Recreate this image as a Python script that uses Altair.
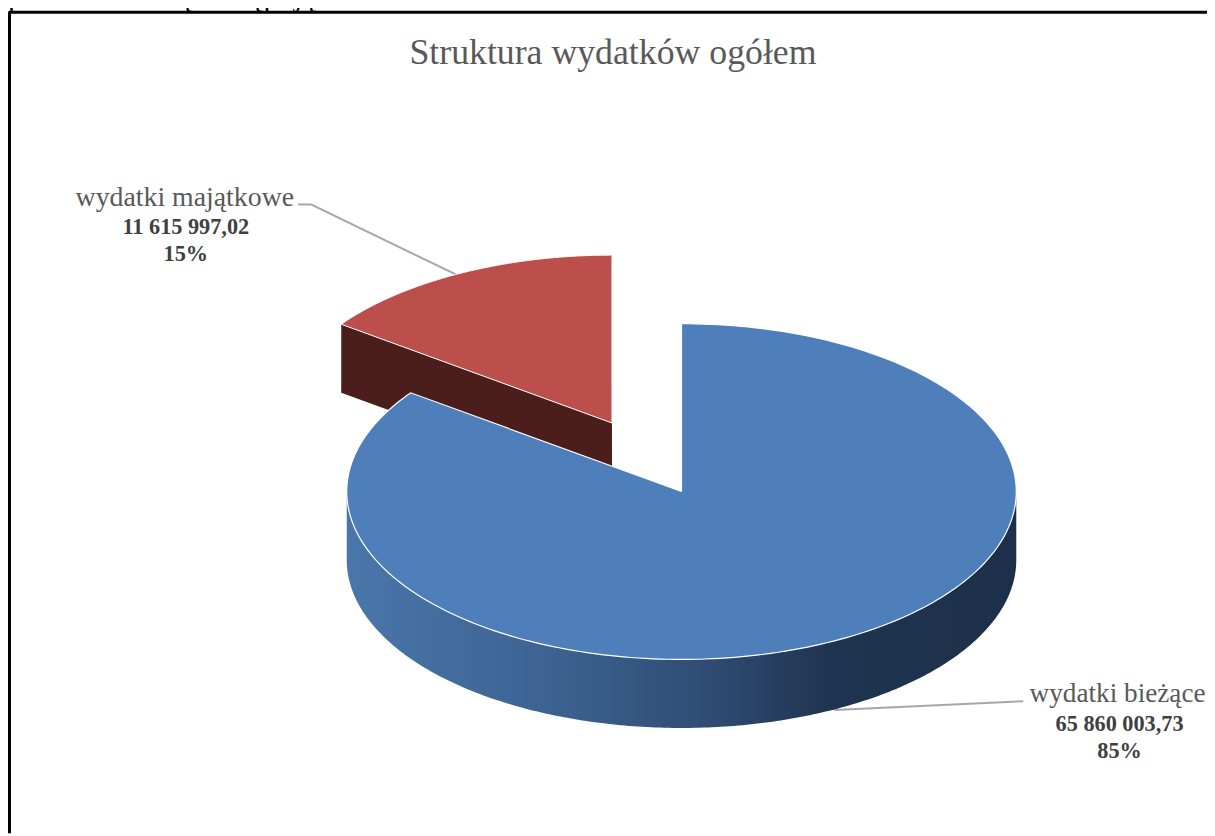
import math
import altair as alt
import pandas as pd

categories = ["wydatki bieżące", "wydatki majątkowe"]
values = [65860003.73, 11615997.02]
value_labels = ["65 860 003,73", "11 615 997,02"]
percent_labels = ["85%", "15%"]
chart_title = "Struktura wydatków ogółem"
clipped_line = "przedstawia się następująco:"

W, H = 1207, 828
CX, CY, RX, RY = 678.0, 484.0, 337.0, 169.0   # pie centre and radii in chart pixels
DEPTH = 69.0 / RY
SHIFT_X, SHIFT_Y = -70.0 / RX, 69.0 / RY      # explosion of the small slice

total = sum(values)
sweep = values[0] / total * 2 * math.pi


def rim(a0, a1, dx=0.0, dy=0.0, n=240):
    """Points on the tilted rim between two angles, clockwise from 12 o'clock."""
    return [(dx + math.sin(a0 + (a1 - a0) * i / n),
             dy + math.cos(a0 + (a1 - a0) * i / n)) for i in range(n + 1)]


def frame(points):
    return pd.DataFrame({"x": [p[0] for p in points],
                         "y": [p[1] for p in points],
                         "i": range(len(points))})


x_scale = alt.Scale(domain=[-CX / RX, (W - CX) / RX], nice=False, zero=False)
y_scale = alt.Scale(domain=[-(H - CY) / RY, CY / RY], nice=False, zero=False)


def shape(points, fill, stroke=None, stroke_width=1.3):
    kw = {"fill": fill, "clip": True, "strokeWidth": stroke_width,
          "stroke": stroke if stroke else "transparent", "strokeJoin": "miter"}
    return alt.Chart(frame(points)).mark_line(**kw).encode(
        x=alt.X("x:Q", scale=x_scale, axis=None),
        y=alt.Y("y:Q", scale=y_scale, axis=None),
        order="i:Q",
    )


# Red slice (exploded)
red_rim = rim(sweep, 2 * math.pi, SHIFT_X, SHIFT_Y)
apex = (SHIFT_X, SHIFT_Y)
red_wall = shape([red_rim[0], (red_rim[0][0], red_rim[0][1] - DEPTH),
                  (apex[0], apex[1] - DEPTH), apex, red_rim[0]], "#4b1d1b")
red_top = shape([apex] + red_rim + [apex], "#bc4f4b", "#ffffff", 1.0)

# Blue slice
wall_gradient = alt.LinearGradient(
    gradient="linear", x1=0, x2=1, y1=0, y2=0,
    stops=[alt.GradientStop(offset=0, color="#4a76aa"),
           alt.GradientStop(offset=0.3, color="#3c6392"),
           alt.GradientStop(offset=0.55, color="#2f4b72"),
           alt.GradientStop(offset=0.72, color="#1f3450"),
           alt.GradientStop(offset=1, color="#1c3049")],
)
upper = rim(math.pi / 2, 3 * math.pi / 2)
lower = [(x, y - DEPTH) for x, y in reversed(upper)]
blue_wall = shape(upper + lower + [upper[0]], wall_gradient)
blue_top = shape([(0, 0)] + rim(0, sweep) + [(0, 0)], "#4e7fbb", "#ffffff", 1.2)


def px_text(text, x, y, size, color="#595959", weight="normal", align="center"):
    return alt.Chart(pd.DataFrame({"t": [text]})).mark_text(
        font="Liberation Serif", fontSize=size, color=color, fontWeight=weight,
        align=align, baseline="alphabetic",
    ).encode(x=alt.value(x), y=alt.value(y), text="t:N")


def px_rule(x, y, x2, y2, color="#a6a6a6", width=2.0):
    return alt.Chart(pd.DataFrame({"a": [0]})).mark_rule(
        color=color, strokeWidth=width
    ).encode(x=alt.value(x), y=alt.value(y), x2=alt.value(x2), y2=alt.value(y2))


layers = [
    px_text(clipped_line, 0, -5, 30.5, "#000000", "normal", "left"),
    px_rule(1, 1.5, W, 1.5, "#000000", 3),
    px_rule(1.5, 1, 1.5, H, "#000000", 3),
    px_rule(292, 195, 305, 195), px_rule(305, 195, 456, 268),
    px_rule(832, 704, 1022, 695),
    red_wall, red_top, blue_wall, blue_top,
    px_text(chart_title, 609, 54, 36),
    px_text(categories[1], 178, 205 - 8, 28),
    px_text(value_labels[1], 179, 233 - 8, 22.4, "#404040", "bold"),
    px_text(percent_labels[1], 179, 260 - 8, 22.4, "#404040", "bold"),
    px_text(categories[0], 1117, 704 - 8, 27.4),
    px_text(value_labels[0], 1119, 733 - 8, 22.4, "#404040", "bold"),
    px_text(percent_labels[0], 1119, 760 - 8, 22.4, "#404040", "bold"),
]

chart = alt.layer(*layers).properties(
    width=W, height=H, padding=0,
    autosize=alt.AutoSizeParams(type="none", contains="padding"),
    background="#ffffff",
).configure_view(stroke=None)

chart.save("out.html", embed_options={"renderer": "svg", "actions": False})
